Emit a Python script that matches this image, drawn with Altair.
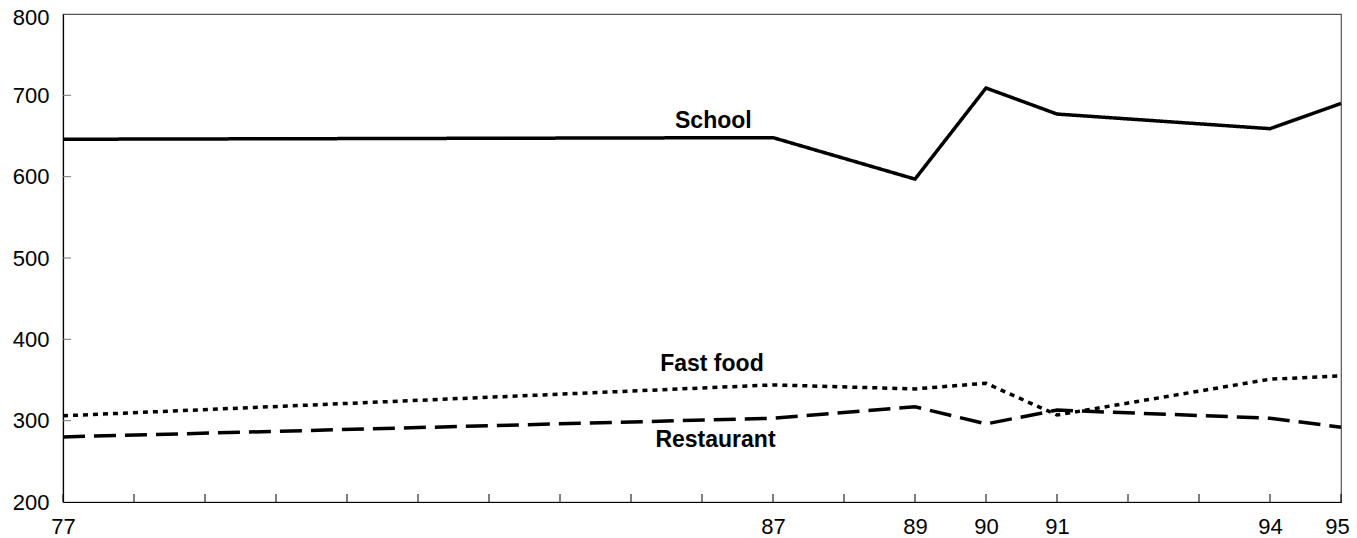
import altair as alt
import pandas as pd

years = [77, 87, 89, 90, 91, 94, 95]
school = [646, 648, 597, 709, 677, 659, 690]
fast_food = [306, 344, 339, 346, 307, 351, 355]
restaurant = [280, 303, 317, 296, 313, 303, 292]

series_names = ["School", "Fast food", "Restaurant"]
label_x = [86.16, 86.14, 86.19]
label_y = [669, 370, 276]

tick_years = list(range(77, 96))
label_years = [77, 87, 89, 90, 91, 94, 95]
y_ticks = [300, 400, 500, 600, 700]

rows = []
for name, vals in zip(series_names, [school, fast_food, restaurant]):
    for yr, v in zip(years, vals):
        rows.append({"series": name, "year": yr, "value": v})
df = pd.DataFrame(rows)
labels_df = pd.DataFrame({"series": series_names, "x": label_x, "y": label_y})
xticks_df = pd.DataFrame({"year": tick_years})
yticks_df = pd.DataFrame({"value": y_ticks})

W, H = 1278, 488
FONT = "Liberation Sans"

xscale = alt.Scale(domain=[77, 95], nice=False, zero=False)
yscale = alt.Scale(domain=[200, 800], nice=False, zero=False)

label_expr = "indexof([" + ",".join(str(v) for v in label_years) + "], datum.value) >= 0 ? datum.value : ''"

lines = alt.Chart(df).mark_line(color="black", strokeWidth=3.5).encode(
    x=alt.X("year:Q", scale=xscale,
            axis=alt.Axis(values=tick_years, labelExpr=label_expr, ticks=False, grid=False,
                          domainColor="black", domainWidth=1.2, labelFont=FONT, labelFontSize=22,
                          labelColor="black", labelPadding=14, labelFlush=False, labelOverlap=False,
                          labelBound=False, title=None,
                          labelOffset={"condition": {"test": "datum.value == 95", "value": -4},
                                       "value": 0})),
    y=alt.Y("value:Q", scale=yscale,
            axis=alt.Axis(values=[200, 300, 400, 500, 600, 700, 800], ticks=False, grid=False,
                          domainColor="black", domainWidth=1.2, labelFont=FONT, labelFontSize=22,
                          labelColor="black", labelPadding=14, labelFlush=False, labelBound=False,
                          title=None,
                          labelOffset={"condition": {"test": "datum.value == 800", "value": 3},
                                       "value": 0})),
    strokeDash=alt.StrokeDash("series:N",
                              scale=alt.Scale(domain=series_names, range=[[1, 0], [5, 5], [22, 9]]),
                              legend=None),
    detail="series:N",
)

texts = alt.Chart(labels_df).mark_text(font=FONT, fontSize=23, fontWeight="bold",
                                       color="black", align="center", baseline="middle").encode(
    x=alt.X("x:Q", scale=xscale),
    y=alt.Y("y:Q", scale=yscale),
    text="series:N",
)

xticks = alt.Chart(xticks_df).mark_rule(color="black", strokeWidth=1).encode(
    x=alt.X("year:Q", scale=xscale),
    y=alt.value(H),
    y2=alt.value(H - 8),
)

yticks = alt.Chart(yticks_df).mark_rule(color="#777777", strokeWidth=1).encode(
    y=alt.Y("value:Q", scale=yscale),
    x=alt.value(0),
    x2=alt.value(8),
)

chart = alt.layer(xticks, yticks, lines, texts).properties(
    width=W, height=H,
    autosize=alt.AutoSizeParams(type="none"),
    padding={"left": 55, "top": 6, "right": 8, "bottom": 36},
).configure_view(stroke="#555555", strokeWidth=1.2)

chart.save("out.html", embed_options={"renderer": "svg", "actions": False})
